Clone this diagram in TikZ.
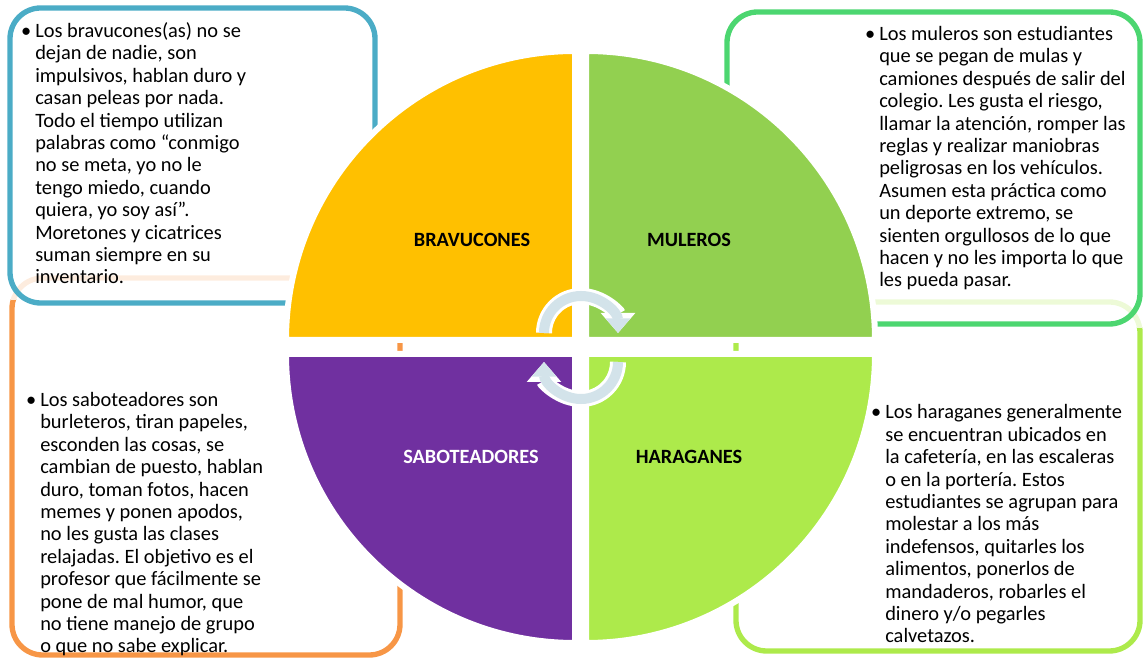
\documentclass[tikz,border=0pt]{standalone}
\usepackage{fontspec}
\setmainfont{Carlito}
\frenchspacing
\usetikzlibrary{arrows.meta, positioning}
\definecolor{bravo}{HTML}{FFC000}
\definecolor{mulo}{HTML}{92D050}
\definecolor{sabo}{HTML}{7030A0}
\definecolor{hara}{HTML}{ADEA4B}
\definecolor{bravoline}{HTML}{4BACC6}
\definecolor{muloline}{HTML}{4CD670}
\definecolor{saboline}{HTML}{F79646}
\definecolor{cyclefill}{HTML}{D3E3EA}
\tikzstyle{frame} = [rounded corners=23pt, line width=4pt]
\tikzstyle{quad} = [draw=white, line width=4.5pt]
\tikzstyle{quadname} = [font=\fontsize{15.2}{17}\selectfont\bfseries]
\tikzstyle{desc} = [anchor=base west, align=left, inner sep=0pt, font=\fontsize{15.3}{16.8}\selectfont]
\tikzstyle{cycleback} = [white, line width=12pt, -{Triangle[width=25pt,length=15pt]}]
\tikzstyle{cyclefront} = [cyclefill, line width=7.5pt, -{Triangle[width=18pt,length=11pt]}]
\newcommand{\bul}{\llap{\textbullet\hspace{3pt}}}

\begin{document}
\begin{tikzpicture}[x=0.75pt,y=0.75pt]
  \useasboundingbox (0,0) rectangle (1143,660);
  % frames behind the circle
  \begin{scope}
    \clip (0,0) rectangle (1143,360);
    \draw[frame, saboline] (12,5) rectangle (400,382);
  \end{scope}
  \begin{scope}
    \clip (0,360) rectangle (1143,400);
    \draw[frame, saboline!18] (12,5) rectangle (400,382);
  \end{scope}
  \begin{scope}
    \clip (0,0) rectangle (1143,332);
    \draw[frame, hara] (736,9) rectangle (1140,358);
  \end{scope}
  \begin{scope}
    \clip (0,332) rectangle (1143,370);
    \draw[frame, hara!22] (736,9) rectangle (1140,358);
  \end{scope}
  \draw[frame, bravoline] (10,652) rectangle (375,357);
  \draw[frame, muloline] (727,648) rectangle (1140,336);

  % quarters
  \filldraw[quad, fill=bravo] (575,320) -- ++(-289,0) arc[start angle=180, end angle=90, radius=216.75pt] -- cycle;
  \filldraw[quad, fill=mulo] (586,320) -- ++(0,289) arc[start angle=90, end angle=0, radius=216.75pt] -- cycle;
  \filldraw[quad, fill=sabo] (575,306) -- ++(-289,0) arc[start angle=180, end angle=270, radius=216.75pt] -- cycle;
  \filldraw[quad, fill=hara] (586,306) -- ++(289,0) arc[start angle=0, end angle=-90, radius=216.75pt] -- cycle;

  % cycle arrows
  \coordinate (upper) at (544,327);
  \coordinate (lower) at (618,298);
  \draw[cycleback] (upper) arc[start angle=180, end angle=0, radius=27.75pt];
  \draw[cyclefront] (upper) arc[start angle=180, end angle=0, radius=27.75pt];
  \draw[cycleback] (lower) arc[start angle=0, end angle=-180, radius=27.75pt];
  \draw[cyclefront] (lower) arc[start angle=0, end angle=-180, radius=27.75pt];

  \node[quadname] (bravucones) at (472,420) {BRAVUCONES};
  \node[quadname] (muleros) at (689,420) {MULEROS};
  \node[quadname, white] (saboteadores) at (471,203) {SABOTEADORES};
  \node[quadname] (haraganes) at (689,203) {HARAGANES};

  \node[desc] (bravotext) at (35,376) {\bul Los bravucones(as) no se\\
    dejan de nadie, son\\
    impulsivos, hablan duro y\\
    casan peleas por nada.\\
    Todo el tiempo utilizan\\
    palabras como “conmigo\\
    no se meta, yo no le\\
    tengo miedo, cuando\\
    quiera, yo soy así”.\\
    Moretones y cicatrices\\
    suman siempre en su\\
    inventario.};
  \node[desc] (mulotext) at (879,373) {\bul Los muleros son estudiantes\\
    que se pegan de mulas y\\
    camiones después de salir del\\
    colegio. Les gusta el riesgo,\\
    llamar la atención, romper las\\
    reglas y realizar maniobras\\
    peligrosas en los vehículos.\\
    Asumen esta práctica como\\
    un deporte extremo, se\\
    sienten orgullosos de lo que\\
    hacen y no les importa lo que\\
    les pueda pasar.};
  \node[desc] (sabotext) at (40,7) {\bul Los saboteadores son\\
    burleteros, tiran papeles,\\
    esconden las cosas, se\\
    cambian de puesto, hablan\\
    duro, toman fotos, hacen\\
    memes y ponen apodos,\\
    no les gusta las clases\\
    relajadas. El objetivo es el\\
    profesor que fácilmente se\\
    pone de mal humor, que\\
    no tiene manejo de grupo\\
    o que no sabe explicar.};
  \node[desc] (haratext) at (885,17) {\bul Los haraganes generalmente\\
    se encuentran ubicados en\\
    la cafetería, en las escaleras\\
    o en la portería. Estos\\
    estudiantes se agrupan para\\
    molestar a los más\\
    indefensos, quitarles los\\
    alimentos, ponerlos de\\
    mandaderos, robarles el\\
    dinero y/o pegarles\\
    calvetazos.};
\end{tikzpicture}
\end{document}
